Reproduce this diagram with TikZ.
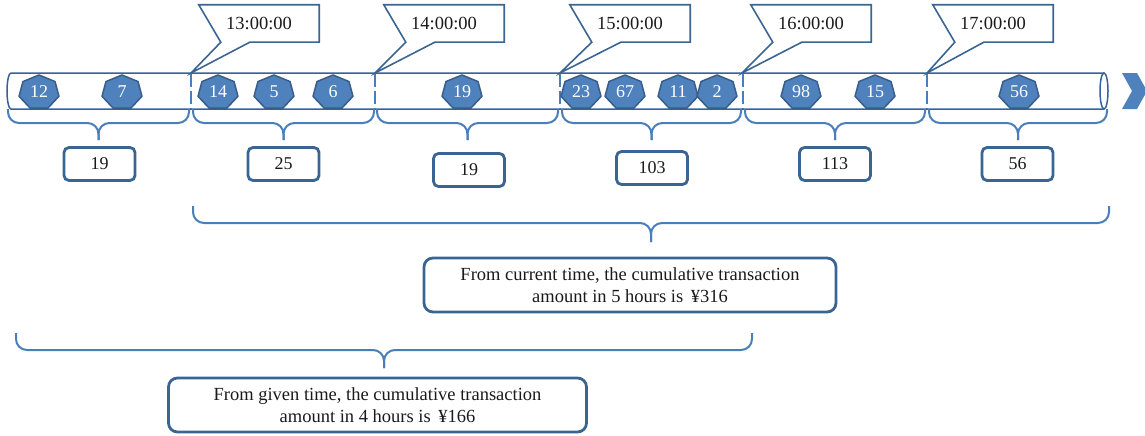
\documentclass[tikz,border=0pt]{standalone}
\usepackage{fontspec}
\setmainfont{Liberation Serif}
\usetikzlibrary{calc}
\definecolor{tokfill}{HTML}{4F81BD}
\definecolor{tokline}{HTML}{385D8A}
\definecolor{bracecol}{HTML}{4A7EBB}
\definecolor{tubecol}{HTML}{36619A}
\definecolor{boxcol}{HTML}{3A6593}
\definecolor{textcol}{HTML}{1A1A1A}
\newcommand\tokdraw[3]{%
  \draw[tokshape] plot[samples at={0,...,6}] ({#2+20.5*cos(-90+\x*360/7)},{92.4+17.4*sin(-90+\x*360/7)}) -- cycle;
  \node[toklabel] (#1) at (#2,92) {#3};}
\newcommand\bracedraw[6]{%
  \coordinate (#1) at ({(#2+#3)/2},#6);
  \draw[bracepath] (#2,#4) |- ({(#2+#3)/2},#5) -- (#1);
  \draw[bracepath] (#3,#4) |- ({(#2+#3)/2},#5) -- (#1);}
\newcommand\timecallout[4]{% name, box x left, tip x, label
  \node[timebox] (#1) at ({#2+60},23.5) {#4};
  \coordinate (#1p) at (#3,73);
  \draw[calloutline] (#1.north west) -- (#1.north east) -- (#1.south east) -- ($(#1.south west)+(51,0)$) -- (#1p) -- ($(#1.south west)+(22,0)$) -- cycle;}
\begin{document}
\begin{tikzpicture}[x=1pt,y=-1pt,
 tube/.style={draw=tubecol,line width=1.5pt},
 divider/.style={draw=bracecol,line width=1.3pt,dash pattern=on 13pt off 4pt},
 bracepath/.style={draw=bracecol,line width=2pt,rounded corners=11pt},
 tokshape/.style={fill=tokfill,draw=tokline,line width=1.5pt,line join=round},
 toklabel/.style={text=white,font=\fontsize{18}{18}\selectfont,inner sep=0pt},
 valbox/.style={draw=boxcol,line width=2.8pt,rounded corners=5pt,minimum width=71pt,minimum height=33pt,inner sep=0pt,font=\fontsize{18}{18}\selectfont,text=textcol},
 timebox/.style={minimum width=120pt,minimum height=37pt,inner sep=0pt,font=\fontsize{18.5}{18.5}\selectfont,text=textcol},
 calloutline/.style={draw=boxcol,line width=1.6pt,line join=miter},
 sumbox/.style={draw=boxcol,line width=2.8pt,rounded corners=9pt,align=center,inner sep=0pt,font=\fontsize{18.5}{22}\selectfont,text=textcol}
]
\useasboundingbox (0,0) rectangle (1145,436);

% tube
\draw[tube] (1104,73) -- (11,73) arc[start angle=-90,end angle=-270,x radius=4,y radius=18] -- (1104,109);
\draw[tube] (1104,91) ellipse[x radius=4,y radius=18];

% dividers
\foreach \d in {191,375,560,743,927} \draw[divider] (\d,74) -- (\d,109);

% tokens
\tokdraw{k1}{39}{12}
\tokdraw{k2}{122}{7}
\tokdraw{k3}{218}{14}
\tokdraw{k4}{274}{5}
\tokdraw{k5}{333}{6}
\tokdraw{k6}{462}{19}
\tokdraw{k7}{581}{23}
\tokdraw{k8}{625}{67}
\tokdraw{k9}{678}{11}
\tokdraw{k10}{717}{2}
\tokdraw{k11}{801}{98}
\tokdraw{k12}{875}{15}
\tokdraw{k13}{1019}{56}

% chevron
\fill[tokfill] (1122,73) -- (1137,73) -- (1147,91) -- (1137,109) -- (1122,109) -- (1132,91) -- cycle;

% callouts
\timecallout{t13}{199}{191}{13:00:00}
\timecallout{t14}{384}{375}{14:00:00}
\timecallout{t15}{570}{560}{15:00:00}
\timecallout{t16}{751}{742}{16:00:00}
\timecallout{t17}{933}{927}{17:00:00}

% small braces
\bracedraw{b1}{8}{189}{109}{123}{140}
\bracedraw{b2}{193}{374}{109}{123}{140}
\bracedraw{b3}{377}{558}{109}{123}{140}
\bracedraw{b4}{562}{741}{109}{123}{140}
\bracedraw{b5}{745}{925}{109}{123}{140}
\bracedraw{b6}{929}{1107}{109}{123}{140}

% value boxes
\node[valbox] (v1) at (99.5,164) {19};
\node[valbox] (v2) at (283.5,164) {25};
\node[valbox] (v3) at (469,170) {19};
\node[valbox] (v4) at (652,168) {103};
\node[valbox] (v5) at (835,164) {113};
\node[valbox] (v6) at (1017.5,164) {56};

% big braces
\bracedraw{B1}{193}{1109}{206}{223}{242}
\bracedraw{B2}{16}{752}{333}{350}{368}

% summary boxes
\node[sumbox,minimum width=412pt,minimum height=54pt] (s1) at (630,285) {From current time, the cumulative transaction\\amount in 5 hours is \hspace{3pt}¥316};
\node[sumbox,minimum width=418pt,minimum height=54pt] (s2) at (377.5,405) {From given time, the cumulative transaction\\amount in 4 hours is \hspace{3pt}¥166};
\end{tikzpicture}
\end{document}
